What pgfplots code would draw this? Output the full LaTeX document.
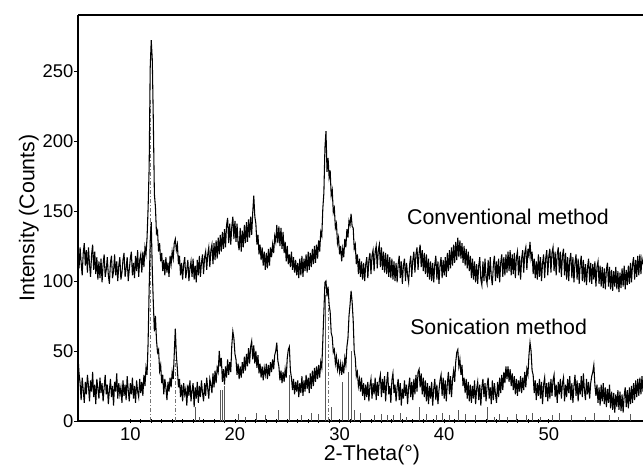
\documentclass[border=0pt]{standalone}
\usepackage{fontspec}
\setmainfont{Liberation Sans}
\usepackage{pgfplots}
\usepackage{pgfplotstable}
\pgfplotsset{compat=1.18}

% XRD scans: 2-theta, conventional method (offset), sonication method
\pgfplotstableread{
x conv son
5.0 121 46
5.1 109 34
5.2 124 27
5.3 113 15
5.4 104 31
5.5 120 22
5.6 127 13
5.7 111 28
5.8 122 19
5.9 106 33
6.0 124 25
6.1 112 14
6.2 103 29
6.3 119 21
6.4 126 35
6.5 108 17
6.6 121 26
6.7 105 12
6.8 117 30
6.9 101 23
7.0 114 16
7.1 102 31
7.2 116 20
7.3 99 27
7.4 112 14
7.5 119 24
7.6 103 33
7.7 108 19
7.8 117 26
7.9 104 12
8.0 98 22
8.1 113 30
8.2 118 17
8.3 102 25
8.4 107 11
8.5 119 28
8.6 104 21
8.7 114 34
8.8 100 16
8.9 111 27
9.0 117 19
9.1 101 24
9.2 106 13
9.3 115 29
9.4 120 18
9.5 103 26
9.6 109 15
9.7 117 32
9.8 100 22
9.9 108 14
10.0 116 27
10.1 121 19
10.2 104 31
10.3 113 16
10.4 102 25
10.5 118 13
10.6 107 29
10.7 122 21
10.8 103 17
10.9 115 30
11.0 119 20
11.1 106 28
11.2 121 18
11.3 110 33
11.4 124 25
11.5 119 38
11.6 131 33
11.7 152 56
11.8 181 94
11.9 252 128
12.0 272 142
12.1 258 108
12.2 214 84
12.3 162 64
12.4 153 75
12.5 134 58
12.6 136 49
12.7 121 51
12.8 127 36
12.9 114 40
13.0 120 27
13.1 107 33
13.2 115 19
13.3 104 30
13.4 117 24
13.5 106 15
13.6 113 28
13.7 103 21
13.8 118 31
13.9 112 24
14.0 121 35
14.1 116 30
14.2 127 48
14.3 130 66
14.4 122 47
14.5 126 37
14.6 112 24
14.7 118 30
14.8 104 17
14.9 113 26
15.0 101 14
15.1 112 27
15.2 117 19
15.3 102 23
15.4 108 11
15.5 115 26
15.6 100 18
15.7 109 29
15.8 114 14
15.9 103 22
16.0 116 27
16.1 101 10
16.2 111 24
16.3 99 16
16.4 115 28
16.5 104 13
16.6 118 25
16.7 103 17
16.8 113 29
16.9 119 20
17.0 105 14
17.1 117 27
17.2 121 18
17.3 108 31
17.4 119 23
17.5 124 16
17.6 110 30
17.7 122 26
17.8 126 20
17.9 112 34
18.0 127 24
18.1 115 36
18.2 129 27
18.3 116 38
18.4 131 35
18.5 119 50
18.6 133 39
18.7 121 45
18.8 135 28
18.9 123 37
19.0 137 26
19.1 124 39
19.2 140 31
19.3 145 44
19.4 127 33
19.5 141 42
19.6 126 35
19.7 139 54
19.8 146 64
19.9 130 59
20.0 143 48
20.1 128 44
20.2 141 33
20.3 127 41
20.4 122 30
20.5 138 39
20.6 121 31
20.7 136 42
20.8 124 34
20.9 140 46
21.0 127 36
21.1 142 48
21.2 128 39
21.3 144 52
21.4 131 41
21.5 146 53
21.6 133 57
21.7 149 44
21.8 161 54
21.9 146 41
22.0 141 50
22.1 126 38
22.2 133 47
22.3 119 34
22.4 126 41
22.5 115 31
22.6 124 39
22.7 111 29
22.8 121 38
22.9 108 33
23.0 120 41
23.1 109 30
23.2 123 40
23.3 111 32
23.4 124 42
23.5 117 35
23.6 126 44
23.7 120 37
23.8 132 47
23.9 128 50
24.0 140 56
24.1 127 43
24.2 139 39
24.3 125 29
24.4 138 36
24.5 123 27
24.6 135 35
24.7 120 28
24.8 128 37
24.9 114 31
25.0 125 45
25.1 112 51
25.2 119 53
25.3 110 36
25.4 121 31
25.5 108 22
25.6 117 30
25.7 106 19
25.8 115 28
25.9 104 21
26.0 113 29
26.1 102 17
26.2 116 27
26.3 104 20
26.4 118 32
26.5 103 18
26.6 116 29
26.7 107 21
26.8 119 33
26.9 106 23
27.0 121 31
27.1 108 20
27.2 120 34
27.3 110 23
27.4 123 36
27.5 112 25
27.6 125 38
27.7 113 28
27.8 126 39
27.9 116 30
28.0 129 40
28.1 121 31
28.2 135 42
28.3 132 38
28.4 152 58
28.5 163 78
28.6 195 99
28.7 207 100
28.8 178 89
28.9 188 96
29.0 174 83
29.1 179 78
29.2 161 63
29.3 165 60
29.4 149 49
29.5 152 51
29.6 138 41
29.7 141 46
29.8 127 37
29.9 131 42
30.0 119 35
30.1 125 41
30.2 114 33
30.3 123 40
30.4 117 34
30.5 130 45
30.6 124 40
30.7 137 53
30.8 131 59
30.9 143 75
31.0 140 83
31.1 148 93
31.2 139 85
31.3 138 72
31.4 123 50
31.5 126 45
31.6 112 32
31.7 119 35
31.8 105 25
31.9 116 30
32.0 103 21
32.1 114 31
32.2 101 18
32.3 113 27
32.4 100 15
32.5 112 26
32.6 117 17
32.7 102 28
32.8 115 14
32.9 120 25
33.0 105 30
33.1 118 16
33.2 122 27
33.3 107 19
33.4 121 31
33.5 125 15
33.6 109 28
33.7 122 18
33.8 126 29
33.9 110 33
34.0 124 17
34.1 108 30
34.2 121 20
34.3 106 32
34.4 120 14
34.5 105 27
34.6 119 35
34.7 103 19
34.8 117 25
34.9 102 13
35.0 116 29
35.1 101 34
35.2 114 20
35.3 100 26
35.4 113 14
35.5 99 24
35.6 112 30
35.7 118 15
35.8 102 27
35.9 114 11
36.0 98 23
36.1 111 16
36.2 116 29
36.3 100 18
36.4 113 26
36.5 104 12
36.6 99 24
36.7 112 31
36.8 118 17
36.9 103 28
37.0 115 15
37.1 121 30
37.2 106 19
37.3 119 33
37.4 124 21
37.5 108 35
37.6 120 37
37.7 126 24
37.8 110 34
37.9 122 19
38.0 107 31
38.1 120 17
38.2 105 29
38.3 119 14
38.4 103 27
38.5 116 12
38.6 101 25
38.7 114 16
38.8 100 28
38.9 113 11
39.0 99 23
39.1 112 30
39.2 118 15
39.3 101 26
39.4 114 12
39.5 98 22
39.6 111 29
39.7 117 33
39.8 102 18
39.9 115 31
40.0 104 16
40.1 117 29
40.2 103 14
40.3 120 27
40.4 107 35
40.5 122 19
40.6 109 32
40.7 124 17
40.8 111 30
40.9 126 36
41.0 113 28
41.1 128 42
41.2 115 49
41.3 131 51
41.4 117 39
41.5 129 44
41.6 116 33
41.7 127 40
41.8 113 25
41.9 125 31
42.0 111 20
42.1 123 30
42.2 109 16
42.3 121 28
42.4 107 14
42.5 118 26
42.6 102 13
42.7 116 25
42.8 101 16
42.9 114 29
43.0 99 12
43.1 112 23
43.2 98 28
43.3 111 15
43.4 117 26
43.5 101 11
43.6 97 24
43.7 114 30
43.8 100 17
43.9 116 27
44.0 102 14
44.1 98 25
44.2 115 31
44.3 101 16
44.4 117 24
44.5 103 12
44.6 97 29
44.7 112 15
44.8 118 27
44.9 100 19
45.0 114 13
45.1 102 28
45.2 116 17
45.3 99 31
45.4 113 20
45.5 119 33
45.6 103 22
45.7 117 35
45.8 104 27
45.9 119 39
46.0 106 30
46.1 121 39
46.2 107 28
46.3 122 37
46.4 104 25
46.5 119 34
46.6 105 22
46.7 120 32
46.8 102 19
46.9 117 30
47.0 121 18
47.1 104 29
47.2 118 21
47.3 101 32
47.4 116 20
47.5 122 31
47.6 106 22
47.7 120 35
47.8 124 24
47.9 108 37
48.0 123 33
48.1 118 47
48.2 128 56
48.3 116 50
48.4 121 36
48.5 105 33
48.6 116 20
48.7 102 29
48.8 114 15
48.9 101 27
49.0 119 18
49.1 103 30
49.2 117 16
49.3 100 28
49.4 113 12
49.5 119 26
49.6 102 31
49.7 116 17
49.8 122 27
49.9 104 14
50.0 118 28
50.1 123 16
50.2 106 30
50.3 120 18
50.4 124 29
50.5 107 33
50.6 121 17
50.7 104 26
50.8 119 13
50.9 124 28
51.0 106 19
51.1 121 30
51.2 103 16
51.3 118 27
51.4 123 31
51.5 104 14
51.6 120 26
51.7 101 17
51.8 117 30
51.9 100 20
52.0 115 32
52.1 120 15
52.2 102 27
52.3 117 13
52.4 99 25
52.5 113 33
52.6 119 18
52.7 101 29
52.8 116 14
52.9 98 27
53.0 112 19
53.1 118 32
53.2 100 17
53.3 115 34
53.4 99 22
53.5 112 15
53.6 97 30
53.7 110 19
53.8 116 28
53.9 99 16
54.0 113 27
54.1 98 32
54.2 112 35
54.3 101 40
54.4 114 26
54.5 96 18
54.6 110 26
54.7 114 13
54.8 98 24
54.9 111 11
55.0 96 26
55.1 110 14
55.2 95 27
55.3 109 12
55.4 94 24
55.5 108 10
55.6 113 23
55.7 96 13
55.8 110 26
55.9 94 9
56.0 108 21
56.1 93 8
56.2 107 20
56.3 96 6
56.4 110 19
56.5 94 10
56.6 107 22
56.7 92 8
56.8 106 21
56.9 95 7
57.0 109 19
57.1 96 6
57.2 111 18
57.3 94 24
57.4 108 10
57.5 97 22
57.6 111 9
57.7 98 24
57.8 113 12
57.9 99 25
58.0 112 13
58.1 117 27
58.2 101 15
58.3 115 29
58.4 103 17
58.5 118 30
58.6 104 18
58.7 119 31
58.8 105 19
58.9 116 32
59.0 112 21
}\xrd

% reference line pattern (solid sticks)
\pgfplotstableread{
x h
16.2 10
16.6 3
18.6 22
18.75 22
19.0 25
20.3 5
21.0 3
22.0 6
22.9 4
24.1 8
25.2 33
26.3 4
27.3 6
28.0 5
28.6 90
29.2 10
30.3 28
30.8 35
31.1 50
31.4 8
32.0 6
33.3 4
34.0 5
34.6 4
35.1 4
35.8 6
36.4 3
37.6 10
38.3 5
39.2 4
39.8 6
40.5 4
41.3 8
42.0 5
43.0 4
44.1 10
44.8 3
45.3 5
46.0 3
46.9 5
47.8 4
48.4 6
49.2 3
50.3 4
51.0 6
52.1 4
53.5 3
54.3 6
55.8 4
56.6 3
57.8 5
}\sticks

% reference line pattern (dashed sticks)
\pgfplotstableread{
x h
11.95 230
14.3 45
28.9 85
}\dsticks

\begin{document}
\begin{tikzpicture}[x=1pt,y=1pt]
\begin{axis}[
  scale only axis,
  width=423.75pt, height=304.5pt,
  xmin=5, xmax=59, ymin=0, ymax=290,
  axis x line*=box, axis y line*=left,
  axis line style={line width=0.9pt},
  xtick={10,20,30,40,50}, minor x tick num=9,
  ytick={0,50,100,150,200,250},
  xtick pos=bottom,
  x tick style={black, line width=0.6pt},
  y tick style={black, line width=0.6pt},
  xtick align=center, ytick align=outside,
  major tick length=3pt, minor tick length=2.5pt,
  /pgf/number format/assume math mode=true,
  ticklabel style={font=\fontsize{13.8}{16}\selectfont},
  yticklabel style={xshift=3pt},
  label style={font=\fontsize{16}{18}\selectfont},
  xlabel={2-Theta(°)},
  ylabel={Intensity (Counts)},
  x label style={xshift=8.6pt, yshift=4pt},
  y label style={yshift=-4pt},
  clip=true,
]
\addplot[ycomb, no marks, black!65, line width=0.4pt] table[x=x, y=h]{\sticks};
\addplot[ycomb, no marks, black!55, line width=0.5pt, dash pattern=on 3pt off 1.5pt on 0.8pt off 1.5pt] table[x=x, y=h]{\dsticks};
\addplot[black, line width=0.8pt, no marks] table[x=x, y=conv]{\xrd};
\addplot[black, line width=0.8pt, no marks] table[x=x, y=son]{\xrd};
\node[font=\fontsize{16}{18}\selectfont] at (axis cs:46.1,146) {Conventional method};
\node[font=\fontsize{16}{18}\selectfont] at (axis cs:45.2,67) {Sonication method};
\end{axis}
\pgfresetboundingbox
\path (current axis.south west) ++(-58.5pt,-33.5pt) coordinate (bbsw);
\path (current axis.north east) ++(0pt,11.25pt) coordinate (bbne);
\useasboundingbox (bbsw) rectangle (bbne);
\end{tikzpicture}
\end{document}
